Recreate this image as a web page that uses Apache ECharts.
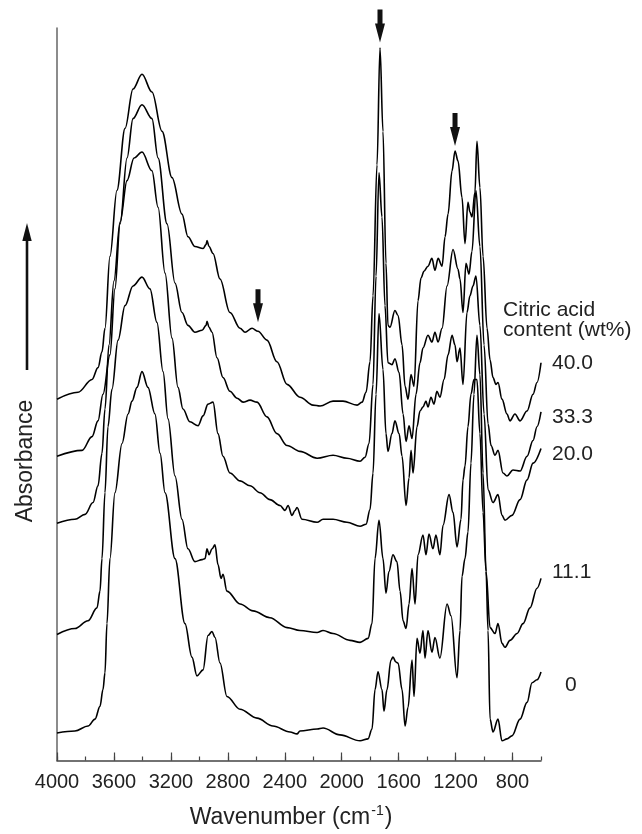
<!DOCTYPE html>
<html>
<head>
<meta charset="utf-8">
<script src="https://cdn.jsdelivr.net/npm/echarts@6/dist/echarts.min.js"></script>
<style>
html,body{margin:0;padding:0;background:#fff;}
#c{width:642px;height:834px;}
</style>
</head>
<body>
<div id="c"></div>
<script>
// Tick labels of the wavenumber axis (cm^-1)
const labelTicks = [4000, 3600, 3200, 2800, 2400, 2000, 1600, 1200, 800];
// Series names = citric acid content (wt%)
const contents = ['0', '11.1', '20.0', '33.3', '40.0'];

// Spectra: [wavenumber, absorbance (a.u., stacked offset)]
const ca0 = [[4000,28],[3874,30],[3782,35],[3733,42],[3698,55],[3677,72],[3663,89],[3649,139],[3628,205],[3593,272],[3543,322],[3501,352],[3473,365],[3438,379],[3403,395],[3361,379],[3312,352],[3276,312],[3241,272],[3171,205],[3101,139],[3052,105],[3017,86],[2974,92],[2939,127],[2911,131],[2890,125],[2855,99],[2806,65],[2714,52],[2595,43],[2483,35],[2363,29],[2314,27],[2293,30],[2173,32],[2131,33],[2012,26],[1871,20],[1815,22],[1787,32],[1766,72],[1745,90],[1717,72],[1703,50],[1682,72],[1654,102],[1640,105],[1619,100],[1604,99],[1576,72],[1555,35],[1534,54],[1506,102],[1492,65],[1471,124],[1450,109],[1429,132],[1415,104],[1394,132],[1366,110],[1345,125],[1310,104],[1260,159],[1232,147],[1190,84],[1169,132],[1155,187],[1134,205],[1113,232],[1092,302],[1071,372],[1050,432],[1029,392],[1007,292],[986,192],[972,132],[958,42],[937,29],[902,42],[874,20],[839,22],[804,25],[747,42],[698,59],[663,79],[628,82],[600,90]];

const ca11 = [[4000,128],[3874,134],[3782,142],[3719,155],[3698,172],[3684,205],[3663,272],[3642,339],[3614,377],[3571,427],[3522,462],[3466,482],[3403,491],[3347,479],[3298,445],[3255,395],[3220,347],[3171,289],[3122,245],[3080,215],[3031,202],[2981,204],[2960,205],[2946,215],[2932,209],[2911,215],[2890,219],[2869,199],[2848,185],[2834,189],[2806,172],[2714,159],[2623,152],[2504,145],[2384,135],[2293,132],[2173,130],[2131,132],[2061,129],[1942,122],[1871,120],[1815,124],[1787,139],[1766,205],[1738,244],[1710,205],[1689,170],[1668,192],[1640,209],[1612,202],[1590,172],[1569,142],[1548,134],[1527,159],[1506,195],[1485,159],[1464,209],[1429,229],[1408,209],[1387,230],[1359,215],[1338,229],[1310,209],[1288,239],[1246,270],[1218,252],[1190,217],[1162,245],[1148,285],[1134,299],[1113,339],[1092,372],[1071,387],[1050,387],[1029,332],[1007,252],[986,192],[958,135],[923,129],[902,139],[874,119],[853,115],[818,122],[768,129],[726,139],[677,155],[628,175],[600,185]];

const ca20 = [[4000,241],[3874,245],[3803,250],[3747,262],[3712,279],[3684,312],[3663,357],[3635,422],[3600,487],[3557,547],[3508,589],[3459,612],[3403,618],[3333,599],[3290,562],[3241,495],[3192,429],[3150,379],[3115,357],[3066,344],[3009,340],[2974,350],[2939,362],[2904,364],[2869,332],[2834,309],[2785,292],[2714,284],[2644,279],[2574,272],[2504,265],[2433,259],[2398,254],[2377,259],[2349,249],[2328,254],[2314,257],[2279,245],[2173,242],[2131,245],[2061,245],[1963,242],[1871,238],[1829,240],[1801,255],[1780,292],[1759,372],[1738,454],[1710,397],[1689,332],[1675,314],[1647,332],[1626,345],[1597,332],[1576,309],[1548,259],[1527,287],[1513,315],[1499,292],[1471,339],[1450,355],[1429,359],[1408,365],[1394,359],[1373,369],[1352,362],[1331,375],[1310,369],[1281,387],[1253,412],[1225,432],[1204,422],[1190,405],[1169,419],[1148,382],[1120,455],[1099,472],[1078,482],[1057,492],[1029,442],[1000,352],[972,275],[937,262],[902,270],[874,249],[853,244],[804,249],[747,265],[698,285],[656,302],[600,317]];

const ca33 = [[4000,309],[3824,315],[3754,329],[3712,345],[3677,372],[3628,412],[3593,479],[3557,545],[3508,612],[3466,652],[3403,666],[3333,652],[3290,612],[3227,545],[3171,485],[3122,455],[3080,442],[3031,435],[2981,437],[2953,442],[2946,446],[2932,440],[2911,435],[2876,409],[2834,389],[2785,375],[2735,368],[2693,364],[2644,366],[2595,364],[2525,349],[2455,332],[2384,320],[2293,314],[2173,307],[2061,310],[1963,307],[1871,304],[1836,308],[1808,322],[1780,382],[1759,492],[1738,597],[1717,552],[1696,462],[1675,404],[1647,402],[1626,408],[1597,394],[1569,352],[1548,324],[1527,340],[1506,327],[1478,372],[1450,404],[1429,419],[1394,432],[1366,425],[1345,435],[1323,425],[1295,439],[1260,482],[1218,519],[1183,499],[1169,489],[1148,455],[1127,505],[1106,494],[1085,517],[1057,579],[1029,522],[1000,422],[972,342],[951,320],[923,310],[902,315],[867,292],[839,289],[797,295],[747,294],[698,309],[656,325],[628,339],[600,354]];

const ca40 = [[4000,367],[3852,374],[3754,387],[3712,399],[3684,415],[3663,439],[3628,512],[3579,579],[3522,642],[3466,682],[3403,697],[3333,679],[3262,639],[3192,592],[3122,555],[3080,532],[3031,522],[2974,520],[2953,524],[2946,528],[2932,522],[2904,515],[2855,489],[2785,455],[2714,439],[2679,435],[2630,439],[2588,436],[2525,427],[2455,405],[2384,382],[2293,369],[2202,361],[2152,360],[2061,365],[1991,365],[1892,361],[1857,364],[1829,374],[1801,405],[1780,472],[1752,605],[1731,724],[1710,639],[1689,505],[1675,442],[1661,440],[1626,457],[1604,452],[1576,422],[1555,380],[1534,367],[1513,392],[1492,380],[1464,467],[1443,490],[1422,497],[1394,502],[1366,510],[1345,498],[1323,510],[1295,502],[1274,532],[1253,555],[1225,599],[1204,619],[1183,609],[1155,572],[1134,525],[1113,567],[1099,557],[1085,552],[1064,577],[1050,629],[1029,582],[1007,512],[979,439],[958,407],[937,389],[916,382],[902,384],[874,367],[839,352],[818,345],[783,352],[747,345],[698,355],[656,372],[628,384],[600,404]];

// Down arrows marking bands (position above the band)
const bandArrows = [[2588,462],[1731,746],[1204,641]];

const spectra = [ca0, ca11, ca20, ca33, ca40];
// label placement relative to the last point of each spectrum: [distance, dy]
const labelPlace = [[24,13],[11,-6],[11,6],[11,5],[11,0]];

const FONT = "'Liberation Sans', Arial, Helvetica, sans-serif";
const chart = echarts.init(document.getElementById('c'), null, {renderer:'canvas'});

const series = spectra.map((d, i) => ({
  type: 'line',
  name: contents[i],
  data: d,
  showSymbol: false,
  smooth: 0.35,
  smoothMonotone: 'x',
  lineStyle: {color: '#000', width: 1.6},
  emphasis: {disabled: true},
  markPoint: {
    symbol: 'circle',
    symbolSize: 0,
    silent: true,
    itemStyle: {color: 'rgba(0,0,0,0)'},
    label: {
      show: true,
      position: 'right',
      distance: labelPlace[i][0],
      offset: [0, labelPlace[i][1]],
      formatter: contents[i],
      fontSize: 21,
      fontFamily: FONT,
      color: '#222'
    },
    data: [{coord: d[d.length - 1]}]
  },
  animation: false
}));

series.push({
  type: 'scatter',
  data: bandArrows,
  symbol: 'path://M2.5,0 L7.5,0 L7.5,14 L10,14 L5,33 L0,14 L2.5,14 Z',
  symbolSize: [10, 33],
  itemStyle: {color: '#111', opacity: 1},
  clip: false,
  silent: true,
  animation: false
});

chart.setOption({
  backgroundColor: '#fff',
  animation: false,
  grid: {left: 57, right: 101, top: 28, bottom: 62, containLabel: false},
  xAxis: [{
    type: 'value',
    inverse: true,
    min: 600, max: 4000, interval: 200,
    position: 'bottom',
    axisLine: {show: true, lineStyle: {color: '#444', width: 1.5}},
    axisTick: {show: true, inside: true, length: 4, lineStyle: {color: '#444', width: 1.2}},
    axisLabel: {customValues: labelTicks, formatter: v => String(v), fontSize: 20, color: '#222', fontFamily: FONT, margin: 12},
    splitLine: {show: false},
    name: '{a|Wavenumber (cm}{s|-1}{a|)}',
    nameLocation: 'middle',
    nameGap: 44,
    nameTextStyle: {
      padding: [0, 16, 0, 0],
      rich: {
        a: {fontSize: 23, color: '#222', fontFamily: FONT},
        s: {fontSize: 14, color: '#222', fontFamily: FONT, padding: [0, 1, 12, 1]}
      }
    }
  }, {
    type: 'value',
    inverse: true,
    min: 600, max: 4000, interval: 200,
    position: 'bottom',
    axisLine: {show: false},
    axisTick: {show: true, inside: true, length: 8, customValues: labelTicks, lineStyle: {color: '#444', width: 1.2}},
    axisLabel: {show: false},
    splitLine: {show: false}
  }],
  yAxis: {
    type: 'value',
    min: 0, max: 744,
    axisLine: {show: true, lineStyle: {color: '#666', width: 1.5}},
    axisTick: {show: false},
    axisLabel: {show: false},
    splitLine: {show: false}
  },
  graphic: [
    {type: 'line', shape: {x1: 27, y1: 370, x2: 27, y2: 238}, style: {stroke: '#111', lineWidth: 2.6}},
    {type: 'polygon', shape: {points: [[27, 223], [22.3, 241], [31.7, 241]]}, style: {fill: '#111'}},
    {type: 'text', x: 26, y: 461, rotation: Math.PI / 2,
      style: {text: 'Absorbance', font: '23px ' + FONT, fill: '#222', textAlign: 'center', textVerticalAlign: 'middle'}},
    {type: 'text', x: 503, y: 300,
      style: {text: 'Citric acid\ncontent (wt%)', font: '21px ' + FONT, fill: '#222', lineHeight: 20, textAlign: 'left', textVerticalAlign: 'top'}}
  ],
  series: series
});
</script>
</body>
</html>
